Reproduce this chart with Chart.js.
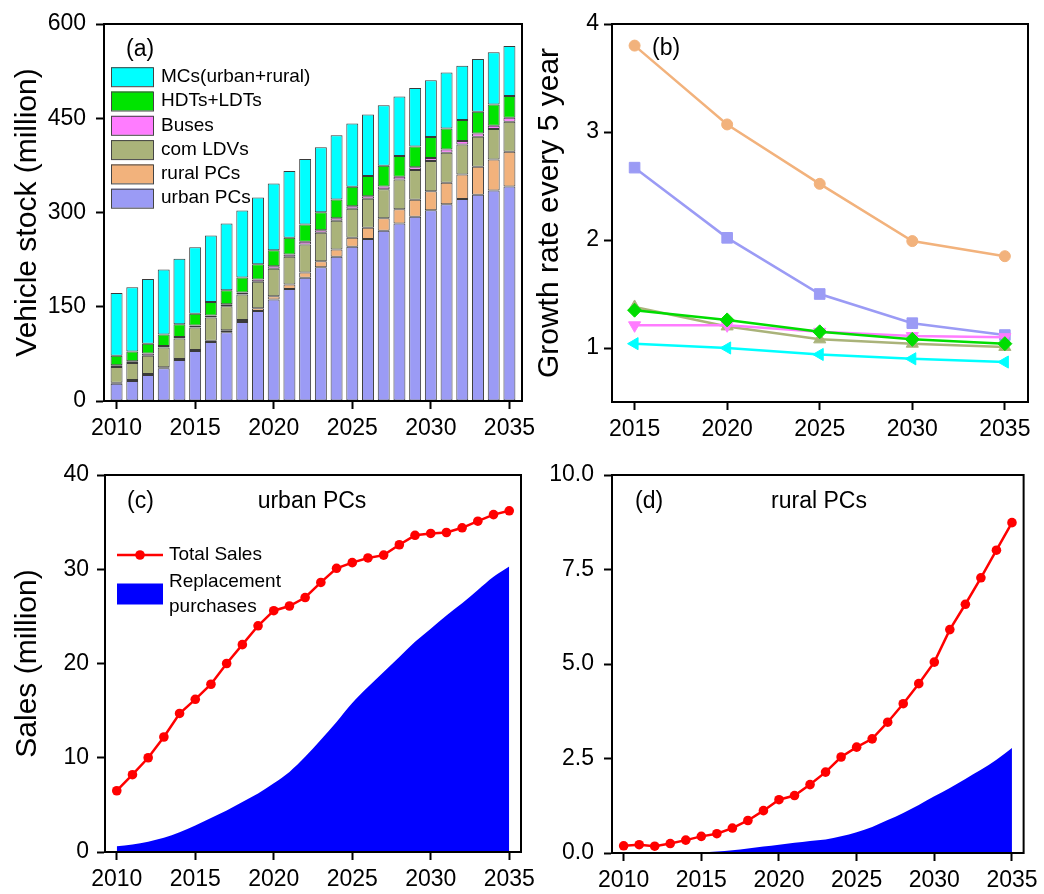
<!DOCTYPE html>
<html>
<head>
<meta charset="utf-8">
<script src="https://cdn.jsdelivr.net/npm/chart.js@4.4.1/dist/chart.umd.min.js"></script>
<style>
  body { margin: 0; background: #fff; }
  #wrap { position: relative; width: 1044px; height: 894px; }
  #wrap canvas { position: absolute; left: 0; top: 0; }
</style>
</head>
<body>
<div id="wrap">
  <canvas id="chartA" width="1044" height="894"></canvas>
  <canvas id="chartB" width="1044" height="894"></canvas>
  <canvas id="chartC" width="1044" height="894"></canvas>
  <canvas id="chartD" width="1044" height="894"></canvas>
</div>
<script>
// ---- dados ----
const years = [2010, 2011, 2012, 2013, 2014, 2015, 2016, 2017, 2018, 2019, 2020, 2021, 2022,
               2023, 2024, 2025, 2026, 2027, 2028, 2029, 2030, 2031, 2032, 2033, 2034, 2035];

// (a) frota de veiculos, milhoes (empilhado)
const urbanStock  = [27.6, 31.9, 41.4, 52.0, 65.3, 79.7, 94.0, 109.4, 125.8, 143.4, 161.4, 178.4, 196.0,
                     213.0, 229.4, 245.3, 258.0, 270.8, 282.5, 293.1, 303.7, 313.3, 321.3, 328.2, 335.0, 341.4];
const ruralStock  = [1.6, 1.6, 1.6, 1.6, 1.6, 1.5, 2.0, 3.2, 3.2, 4.2, 5.3, 6.9, 8.4,
                     9.5, 11.6, 14.4, 17.6, 20.2, 22.8, 27.1, 30.3, 34.0, 39.2, 44.6, 49.4, 55.3];
const comLdvStock = [25.0, 27.0, 29.2, 31.4, 32.4, 35.6, 36.8, 38.2, 40.4, 42.0, 43.6, 44.1, 44.6,
                     45.1, 45.7, 46.2, 46.2, 46.2, 47.3, 47.3, 47.8, 47.7, 47.8, 47.8, 48.4, 47.7];
const busStock    = [2.6, 2.7, 3.2, 2.6, 2.7, 3.2, 3.2, 3.2, 3.2, 3.7, 4.2, 3.7, 4.3,
                     4.3, 4.3, 4.1, 4.2, 4.2, 4.2, 4.7, 4.8, 5.4, 5.3, 5.3, 5.2, 6.4];
const truckStock  = [15.4, 15.4, 15.9, 18.1, 20.0, 19.0, 21.7, 22.3, 23.9, 24.4, 25.5, 26.6, 27.7,
                     28.6, 29.7, 30.9, 31.9, 33.0, 33.0, 33.0, 33.4, 33.4, 33.5, 34.5, 34.0, 34.5];
const mcStock     = [99.8, 102.4, 103.0, 103.5, 104.2, 105.8, 105.7, 106.2, 106.7, 106.3, 106.2, 106.2, 104.0,
                     103.5, 102.3, 100.9, 98.2, 96.1, 95.0, 92.8, 90.3, 89.2, 86.6, 83.9, 82.9, 79.7];

// (b) taxa de crescimento a cada 5 anos
const growthYears  = [2015, 2020, 2025, 2030, 2035];
const growthRural  = [3.80, 3.07, 2.52, 1.99, 1.85];
const growthUrban  = [2.67, 2.02, 1.50, 1.23, 1.12];
const growthComLdv = [1.38, 1.20, 1.08, 1.04, 1.01];
const growthTruck  = [1.35, 1.26, 1.15, 1.08, 1.04];
const growthBus    = [1.21, 1.21, 1.15, 1.11, 1.10];
const growthMc     = [1.04, 1.00, 0.94, 0.90, 0.87];

// (c) vendas urban PCs
const urbanTotal   = [6.5, 8.2, 10.0, 12.2, 14.7, 16.2, 17.8, 20.0, 22.0, 24.0, 25.6, 26.1, 27.0,
                      28.6, 30.1, 30.7, 31.2, 31.5, 32.6, 33.6, 33.8, 33.9, 34.4, 35.1, 35.8, 36.2];
const urbanReplace = [0.6, 0.8, 1.1, 1.5, 2.1, 2.8, 3.6, 4.4, 5.3, 6.2, 7.3, 8.5, 10.1,
                      11.9, 13.8, 15.8, 17.5, 19.1, 20.7, 22.3, 23.7, 25.1, 26.4, 27.8, 29.2, 30.3];

// (d) vendas rural PCs
const ruralTotal   = [0.19, 0.22, 0.18, 0.25, 0.34, 0.44, 0.51, 0.66, 0.86, 1.12, 1.41, 1.52, 1.81,
                      2.14, 2.54, 2.80, 3.02, 3.46, 3.95, 4.48, 5.05, 5.91, 6.58, 7.28, 8.01, 8.74];
const ruralReplace = [0, 0, 0, 0, 0, 0.02, 0.04, 0.07, 0.12, 0.17, 0.22, 0.27, 0.32,
                      0.36, 0.44, 0.55, 0.69, 0.87, 1.06, 1.27, 1.50, 1.72, 1.96, 2.20, 2.47, 2.78];

// marcas dos eixos
const yearTicks      = [2010, 2015, 2020, 2025, 2030, 2035];
const stockTicks     = [0, 150, 300, 450, 600];
const growthTicks    = [1, 2, 3, 4];
const urbanSaleTicks = [0, 10, 20, 30, 40];
const ruralSaleTicks = [0, 2.5, 5, 7.5, 10];

// ---- estilo ----
const FONT = "'Liberation Sans', Arial, sans-serif";
Chart.defaults.font.family = FONT;
Chart.defaults.color = '#000';
Chart.defaults.animation = false;

const toXY = (xs, ys) => xs.map((x, i) => ({ x: x, y: ys[i] }));

// moldura preta em volta da area do grafico
const frame = {
    id: 'frame',
    afterDatasetsDraw(chart) {
        const { ctx, chartArea: a } = chart;
        ctx.save();
        ctx.strokeStyle = '#000';
        ctx.lineWidth = 2;
        ctx.strokeRect(a.left, a.top, a.right - a.left, a.bottom - a.top);
        ctx.restore();
    }
};

// textos soltos: (a), (b), titulos internos
const notes = {
    id: 'notes',
    afterDraw(chart, args, opts) {
        const ctx = chart.ctx;
        ctx.save();
        ctx.fillStyle = '#000';
        ctx.textBaseline = 'middle';
        (opts.items || []).forEach(t => {
            ctx.font = (t.size || 23) + 'px ' + FONT;
            ctx.textAlign = t.align || 'left';
            ctx.fillText(t.text, t.x, t.y);
        });
        ctx.restore();
    }
};

// legenda de caixas do painel (a)
const boxLegend = {
    id: 'boxLegend',
    afterDatasetsDraw(chart, args, opts) {
        if (!opts.x) return;
        const ctx = chart.ctx;
        const sets = chart.data.datasets.slice().reverse();
        ctx.save();
        ctx.font = opts.size + 'px ' + FONT;
        ctx.textBaseline = 'middle';
        sets.forEach((ds, i) => {
            const cy = opts.y + i * opts.step;
            ctx.fillStyle = ds.backgroundColor;
            ctx.fillRect(opts.x, cy - opts.h / 2, opts.w, opts.h);
            ctx.strokeStyle = '#444';
            ctx.lineWidth = 1;
            ctx.strokeRect(opts.x + 0.5, cy - opts.h / 2 + 0.5, opts.w, opts.h);
            ctx.fillStyle = '#000';
            ctx.fillText(ds.label, opts.x + opts.w + 8, cy);
        });
        ctx.restore();
    }
};

// legenda linha + area dos paineis (c)
const salesLegend = {
    id: 'salesLegend',
    afterDatasetsDraw(chart, args, opts) {
        if (!opts.x) return;
        const ctx = chart.ctx;
        const line = chart.data.datasets[0];
        const area = chart.data.datasets[1];
        ctx.save();
        ctx.strokeStyle = line.borderColor;
        ctx.lineWidth = line.borderWidth;
        ctx.beginPath();
        ctx.moveTo(opts.x, opts.y);
        ctx.lineTo(opts.x + opts.w, opts.y);
        ctx.stroke();
        ctx.fillStyle = line.borderColor;
        ctx.beginPath();
        ctx.arc(opts.x + opts.w / 2, opts.y, line.pointRadius, 0, Math.PI * 2);
        ctx.fill();
        ctx.fillStyle = area.backgroundColor;
        ctx.fillRect(opts.x, opts.y2 - 10.5, opts.w, 21);
        ctx.fillStyle = '#000';
        ctx.font = opts.size + 'px ' + FONT;
        ctx.textBaseline = 'middle';
        ctx.fillText(line.label, opts.x + opts.w + 6, opts.y);
        const parts = area.label.split('\n');
        parts.forEach((p, i) => ctx.fillText(p, opts.x + opts.w + 6, opts.y2 - 12 + i * 24.5));
        ctx.restore();
    }
};

function yearAxis(min, max, ticks, height) {
    return {
        type: 'linear',
        min: min,
        max: max,
        offset: false,
        afterBuildTicks: s => { s.ticks = ticks.map(v => ({ value: v })); },
        afterFit: s => { s.height = height; },
        ticks: { font: { size: 23 }, padding: 6, autoSkip: false, maxRotation: 0, callback: v => String(v) },
        grid: { display: true, drawOnChartArea: false, drawTicks: true, tickLength: 8, tickWidth: 2, tickColor: '#000', offset: false },
        border: { display: true, color: '#000', width: 2 }
    };
}

function valueAxis(min, max, ticks, width, pad, fmt, title) {
    return {
        type: 'linear',
        min: min,
        max: max,
        afterBuildTicks: s => { s.ticks = ticks.map(v => ({ value: v })); },
        afterFit: s => { s.width = width; },
        ticks: { font: { size: 23 }, padding: pad, callback: fmt },
        grid: { display: true, drawOnChartArea: false, drawTicks: true, tickLength: 8, tickWidth: 2, tickColor: '#000' },
        border: { display: true, color: '#000', width: 2 },
        title: title ? { display: true, text: title, font: { size: 30 }, color: '#000', padding: { top: 10, bottom: 0 } } : { display: false }
    };
}

// ---- (a) barras empilhadas ----
const stockSeries = [
    { label: 'urban PCs', data: urbanStock, color: '#9b9bf5' },
    { label: 'rural PCs', data: ruralStock, color: '#f2b27c' },
    { label: 'com LDVs', data: comLdvStock, color: '#aab37a' },
    { label: 'Buses', data: busStock, color: '#ff7cff' },
    { label: 'HDTs+LDTs', data: truckStock, color: '#00e400' },
    { label: 'MCs(urban+rural)', data: mcStock, color: '#00ffff' }
];

new Chart(document.getElementById('chartA'), {
    type: 'bar',
    data: {
        datasets: stockSeries.map(s => ({
            label: s.label,
            data: toXY(years, s.data),
            backgroundColor: s.color,
            borderColor: '#3a3a3a',
            borderWidth: 1,
            borderSkipped: false,
            categoryPercentage: 1,
            barPercentage: 0.76
        }))
    },
    options: {
        responsive: false,
        layout: { padding: { left: 0, top: 24, right: 522, bottom: 894 - 401 - 50 } },
        scales: {
            x: Object.assign(yearAxis(2009.2, 2035.8, yearTicks, 50), { stacked: true }),
            y: Object.assign(valueAxis(0, 600, stockTicks, 104, 10, v => String(v), 'Vehicle stock (million)'), { stacked: true })
        },
        plugins: {
            legend: { display: false },
            tooltip: { enabled: false },
            boxLegend: { x: 111, y: 76.7, step: 24.3, w: 42, h: 19, size: 19 },
            notes: { items: [{ text: '(a)', x: 126, y: 50 }] }
        }
    },
    plugins: [frame, boxLegend, notes]
});

// ---- (b) linhas de crescimento ----
const growthSeries = [
    { label: 'HDTs+LDTs', data: growthTruck, color: '#00dd00', style: 'rectRot', r: 7, rot: 0 },
    { label: 'Buses', data: growthBus, color: '#ff7cff', style: 'triangle', r: 7, rot: 180 },
    { label: 'com LDVs', data: growthComLdv, color: '#aab37a', style: 'triangle', r: 7, rot: 0 },
    { label: 'MCs(urban+rural)', data: growthMc, color: '#00ffff', style: 'triangle', r: 7, rot: -90 },
    { label: 'urban PCs', data: growthUrban, color: '#9b9bf5', style: 'rect', r: 7.5, rot: 0 },
    { label: 'rural PCs', data: growthRural, color: '#f2b27c', style: 'circle', r: 5.5, rot: 0 }
];

new Chart(document.getElementById('chartB'), {
    type: 'line',
    data: {
        datasets: growthSeries.map(s => ({
            label: s.label,
            data: toXY(growthYears, s.data),
            borderColor: s.color,
            backgroundColor: s.color,
            borderWidth: 2.5,
            pointStyle: s.style,
            pointRadius: s.r,
            pointRotation: s.rot,
            pointBorderWidth: 1,
            tension: 0
        }))
    },
    options: {
        responsive: false,
        layout: { padding: { left: 522, top: 24, right: 16, bottom: 894 - 402 - 50 } },
        scales: {
            x: yearAxis(2013.78, 2036.25, growthYears, 50),
            y: valueAxis(0.5, 4, growthTicks, 90, 5, v => String(v), 'Growth rate every 5 year')
        },
        plugins: {
            legend: { display: false },
            tooltip: { enabled: false },
            notes: { items: [{ text: '(b)', x: 652, y: 49 }] }
        }
    },
    plugins: [frame, notes]
});

// ---- (c) e (d) vendas ----
function salesChart(id, total, replace, yTicks, box, yWidth, yPad, fmt, title, legendOpts, items) {
    return new Chart(document.getElementById(id), {
        type: 'line',
        data: {
            datasets: [
                {
                    label: 'Total Sales',
                    data: toXY(years, total),
                    borderColor: '#ff0000',
                    backgroundColor: '#ff0000',
                    borderWidth: 2.5,
                    pointRadius: 4.8,
                    pointBorderWidth: 0,
                    tension: 0
                },
                {
                    label: 'Replacement\npurchases',
                    data: toXY(years, replace),
                    borderColor: '#0000ff',
                    backgroundColor: '#0000ff',
                    borderWidth: 0,
                    pointRadius: 0,
                    cubicInterpolationMode: 'monotone',
                    fill: 'origin'
                }
            ]
        },
        options: {
            responsive: false,
            layout: { padding: { left: box.left - yWidth, top: box.top, right: 1044 - box.right, bottom: 894 - box.bottom - 40 } },
            scales: {
                x: yearAxis(2009.25, 2035.75, yearTicks, 40),
                y: valueAxis(yTicks[0], yTicks[yTicks.length - 1], yTicks, yWidth, yPad, fmt, title)
            },
            plugins: {
                legend: { display: false },
                tooltip: { enabled: false },
                filler: { propagate: false },
                salesLegend: legendOpts,
                notes: { items: items }
            }
        },
        plugins: [frame, salesLegend, notes]
    });
}

salesChart('chartC', urbanTotal, urbanReplace, urbanSaleTicks,
    { left: 105, top: 475, right: 521, bottom: 852 }, 105, 8, v => String(v), 'Sales (million)',
    { x: 117, y: 555, y2: 594, w: 46, size: 19 },
    [{ text: '(c)', x: 127, y: 502 }, { text: 'urban PCs', x: 312, y: 502, align: 'center' }]);

salesChart('chartD', ruralTotal, ruralReplace, ruralSaleTicks,
    { left: 612, top: 475, right: 1028, bottom: 853 }, 90, 10, v => v.toFixed(1), null,
    {},
    [{ text: '(d)', x: 635, y: 502 }, { text: 'rural PCs', x: 819, y: 502, align: 'center' }]);
</script>
</body>
</html>
